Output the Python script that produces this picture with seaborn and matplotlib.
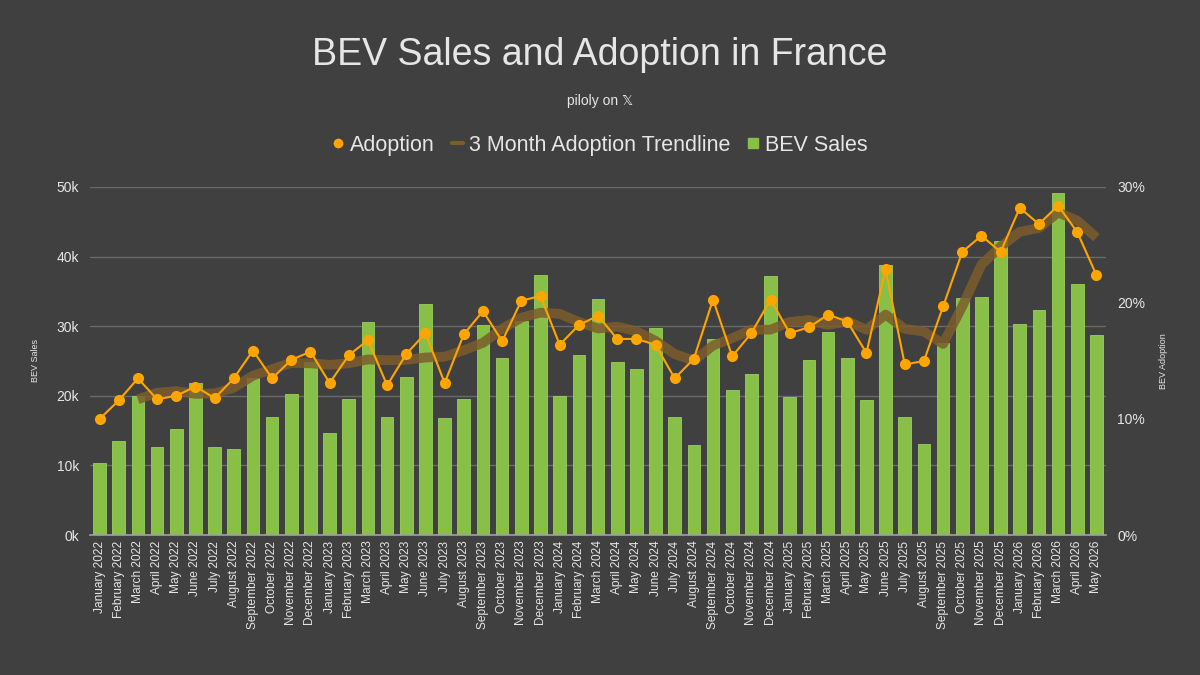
import seaborn as sns
import pandas as pd
import numpy as np
import matplotlib.pyplot as plt
from matplotlib.lines import Line2D
from matplotlib.patches import Patch

# months Jan 2022 .. May 2026
month_names = ['January', 'February', 'March', 'April', 'May', 'June', 'July',
               'August', 'September', 'October', 'November', 'December']
months = [f'{m} {y}' for y in range(2022, 2027) for m in month_names][:53]

# BEV sales (units)
bev_sales = [10300, 13500, 19900, 12600, 15200, 21900, 12700, 12300, 22500, 16900, 20300, 24900,
             14700, 19500, 30600, 17000, 22700, 33200, 16800, 19600, 30100, 25400, 30700, 37300,
             19900, 25800, 33900, 24800, 23800, 29700, 17000, 13000, 28200, 20800, 23200, 37200,
             19800, 25200, 29200, 25400, 19400, 38800, 17000, 13100, 27600, 34100, 34200, 42200,
             30300, 32300, 49200, 36100, 28800]

# BEV share of new registrations (%)
adoption = [10.0, 11.6, 13.5, 11.7, 12.0, 12.8, 11.8, 13.5, 15.9, 13.5, 15.1, 15.8,
            13.1, 15.5, 16.8, 12.9, 15.6, 17.4, 13.1, 17.3, 19.3, 16.7, 20.2, 20.6,
            16.4, 18.1, 18.9, 16.9, 16.9, 16.4, 13.5, 15.2, 20.3, 15.4, 17.4, 20.3,
            17.4, 17.9, 19.0, 18.4, 15.7, 22.9, 14.7, 15.0, 19.7, 24.4, 25.8, 24.4,
            28.2, 26.8, 28.4, 26.1, 22.4]

df = pd.DataFrame({'month': months, 'sales': bev_sales, 'adoption': adoption})
df['pos'] = np.arange(len(df))
df['trend'] = df['adoption'].rolling(3).mean()

bg = '#404040'
txt = '#e6e6e6'
green = '#88bf47'
orange = '#ffa500'
brown = '#7d5c2c'

sns.set_style('dark')
plt.rcParams['font.family'] = ['Liberation Sans', 'DejaVu Sans']

fig = plt.figure(figsize=(12, 6.75), dpi=100, facecolor=bg)
ax = fig.add_axes([0.075, 0.2074, 0.8467, 0.5156])
ax.set_facecolor(bg)

sns.barplot(data=df, x='month', y='sales', color=green, width=0.66, saturation=1,
            edgecolor='#9ad05a', linewidth=0.6, ax=ax, zorder=2)
ax.set_ylim(0, 50000)
ax.set_xlim(-0.5, len(df) - 0.5)
ax.set_yticks(np.arange(0, 50001, 10000))
ax.set_yticklabels([f'{v // 1000}k' for v in range(0, 50001, 10000)])
ax.grid(axis='y', color='#6a6a6a', linewidth=1, zorder=0)
ax.set_axisbelow(True)
ax.tick_params(axis='x', rotation=90, labelsize=8.6, colors=txt, length=0, pad=4)
ax.tick_params(axis='y', labelsize=10, colors=txt, length=0, pad=8)
ax.set_xlabel('')
ax.set_ylabel('BEV Sales', color=txt, fontsize=6.5, labelpad=12)
for s in ['top', 'right', 'left']:
    ax.spines[s].set_visible(False)
ax.spines['bottom'].set_color('#a0a0a0')
ax.spines['bottom'].set_linewidth(1.2)

ax2 = ax.twinx()
ax2.set_ylim(0, 30)
ax2.set_xlim(-0.5, len(df) - 0.5)
sns.lineplot(data=df, x='pos', y='trend', color=brown, linewidth=7, alpha=0.85,
             solid_capstyle='butt', ax=ax2, zorder=3)
sns.lineplot(data=df, x='pos', y='adoption', color=orange, linewidth=1.5,
             marker='o', markersize=8, markeredgewidth=0, ax=ax2, zorder=4)
ax2.set_yticks([0, 10, 20, 30])
ax2.set_yticklabels(['0%', '10%', '20%', '30%'])
ax2.tick_params(axis='y', labelsize=10, colors=txt, length=0, pad=8)
ax2.set_ylabel('BEV Adoption', color=txt, fontsize=6.5, labelpad=10)
ax2.set_xlabel('')
ax2.grid(False)
for s in ax2.spines.values():
    s.set_visible(False)

fig.text(0.5, 0.918, 'BEV Sales and Adoption in France', ha='center', va='center',
         color=txt, fontsize=27)
fig.text(0.5, 0.851, 'piloly on 𝕏', ha='center', va='center', color=txt, fontsize=10,
         family=['Liberation Sans', 'DejaVu Sans'])

handles = [Line2D([], [], color=orange, marker='o', linestyle='none', markersize=6),
           Line2D([], [], color=brown, linewidth=3),
           Line2D([], [], color=green, marker='s', linestyle='none', markersize=7)]
labels = ['Adoption', '3 Month Adoption Trendline', 'BEV Sales']
fig.legend(handles, labels, loc='center', bbox_to_anchor=(0.5, 0.785), ncol=3,
           frameon=False, fontsize=15.5, labelcolor=txt, handlelength=0.5,
           handletextpad=0.3, columnspacing=0.8)

fig.savefig('out.png', dpi=100, facecolor=bg)
